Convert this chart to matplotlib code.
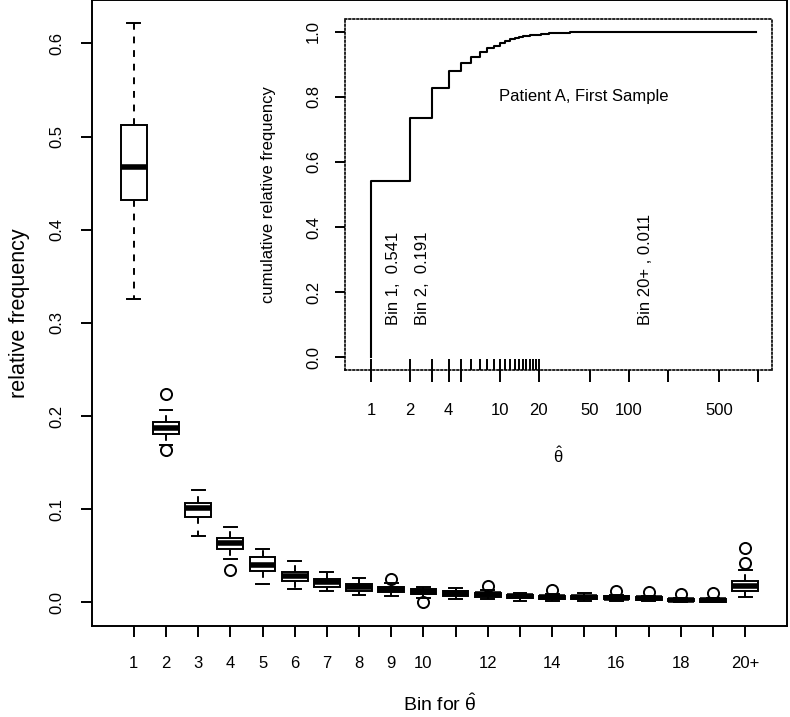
import matplotlib
matplotlib.use("Agg")
import matplotlib.pyplot as plt
from matplotlib.ticker import NullLocator

plt.rcParams['font.family'] = ['Liberation Sans', 'DejaVu Sans']
plt.rcParams['mathtext.fontset'] = 'custom'
plt.rcParams['mathtext.rm'] = 'Liberation Sans'
plt.rcParams['mathtext.it'] = 'Liberation Sans:italic'

# main panel: relative frequency per bin, summarised across samples
bins = ["1", "2", "3", "4", "5", "6", "7", "8", "9", "10",
        "11", "12", "13", "14", "15", "16", "17", "18", "19", "20+"]
shown = ["1", "2", "3", "4", "5", "6", "7", "8", "9", "10",
         "12", "14", "16", "18", "20+"]
whis_hi = [0.6217, 0.206, 0.1211, 0.0807, 0.0568, 0.0443, 0.0322, 0.0264, 0.021, 0.0167,
           0.015, 0.0132, 0.0096, 0.0086, 0.0096, 0.0078, 0.0068, 0.0043, 0.005, 0.0346]
q3 = [0.5127, 0.1936, 0.1068, 0.0692, 0.0482, 0.0328, 0.0253, 0.0193, 0.0167, 0.0139,
      0.0121, 0.0103, 0.0078, 0.0071, 0.0068, 0.0064, 0.0057, 0.0035, 0.0035, 0.0232]
med = [0.4669, 0.1871, 0.1008, 0.0639, 0.040, 0.0282, 0.0221, 0.0161, 0.0139, 0.0114,
       0.0096, 0.0086, 0.0064, 0.0054, 0.0054, 0.005, 0.0043, 0.0025, 0.0021, 0.0175]
q1 = [0.4323, 0.1811, 0.0917, 0.0568, 0.0339, 0.0232, 0.0167, 0.0124, 0.0107, 0.0086,
      0.0071, 0.006, 0.0043, 0.0032, 0.0035, 0.0032, 0.0028, 0.001, 0.0007, 0.0121]
whis_lo = [0.3251, 0.1686, 0.0711, 0.046, 0.0199, 0.0146, 0.0121, 0.0078, 0.0071, 0.005,
           0.0035, 0.0035, 0.0017, 0.001, 0.0014, 0.0014, 0.001, 0.0003, 0.0, 0.0056]
outliers = [[], [0.224, 0.1632], [], [0.0346], [], [], [], [], [0.025], [0.0007],
            [], [0.0175], [], [0.0132], [], [0.0121], [0.011], [0.0086], [0.0096], [0.058, 0.042]]

# inset: cumulative relative frequency of theta-hat, patient A first sample
ecdf_x = [1, 2, 3, 4, 5, 6, 7, 8, 9, 10, 11, 12, 13, 14, 15, 16, 17, 18, 19,
          20, 21, 22, 24, 27, 35, 50, 100, 200, 500, 975]
ecdf_y = [0.541, 0.736, 0.826, 0.880, 0.903, 0.921, 0.939, 0.949, 0.957, 0.964,
          0.971, 0.977, 0.982, 0.985, 0.987, 0.988, 0.9885, 0.989, 0.989,
          0.991, 0.993, 0.994, 0.996, 0.997, 0.998, 0.9985, 0.999, 0.9995, 0.9998, 1.0]
rug_x = list(range(1, 21))
inset_ticks = [1, 2, 3, 4, 5, 10, 20, 50, 100, 200, 500, 1000]
inset_shown = ["1", "2", "4", "10", "20", "50", "100", "500"]
note_text = ["Bin 1,  0.541", "Bin 2,  0.191", "Bin 20+ , 0.011"]
note_x = [1.5, 2.5, 135]

W, H = 790, 717


def frac(l, t, r, b):
    return [l / W, 1 - b / H, (r - l) / W, (b - t) / H]


fig = plt.figure(figsize=(7.9, 7.17), dpi=100)
ax = fig.add_axes(frac(92, 0, 787, 625.5))

pos = list(range(1, len(bins) + 1))
stats = [dict(med=m, q1=a, q3=b, whislo=lo, whishi=hi, fliers=f)
         for m, a, b, lo, hi, f in zip(med, q1, q3, whis_lo, whis_hi, outliers)]
ax.bxp(stats, positions=pos, widths=0.8, capwidths=0.4, patch_artist=True,
       boxprops=dict(facecolor='white', edgecolor='black', linewidth=1.4),
       medianprops=dict(color='black', linewidth=4, solid_capstyle='butt'),
       whiskerprops=dict(color='black', linewidth=1.4, linestyle=(0, (3.5, 3.5))),
       capprops=dict(color='black', linewidth=1.4),
       flierprops=dict(marker='o', markerfacecolor='none', markeredgecolor='black',
                       markersize=8, markeredgewidth=1.4))

ax.set_xlim(-0.3, 21.3)
ax.set_ylim(-0.0249, 0.6466)
ax.set_xticks(pos)
ax.set_xticklabels([b if b in shown else "" for b in bins])
yt = [0.0, 0.1, 0.2, 0.3, 0.4, 0.5, 0.6]
ax.set_yticks(yt)
ax.set_yticklabels(["%.1f" % v for v in yt], rotation=90, va='center')
ax.tick_params(length=8, width=1.4, labelsize=12)
ax.tick_params(axis='x', pad=14)
ax.tick_params(axis='y', pad=12)
for s in ax.spines.values():
    s.set_linewidth(1.4)
ax.set_ylabel("relative frequency", fontsize=15.5, labelpad=14)
ax.set_xlabel(r"Bin for $\hat{\mathrm{\theta}}$", fontsize=14, labelpad=16)

# inset
ins = fig.add_axes(frac(345, 18.7, 772, 370.3))
ins.set_xscale('log')
ins.step([1] + ecdf_x, [0] + ecdf_y, where='post', color='black', lw=1.5)
ins.vlines(rug_x, 0, 0.031, transform=ins.get_xaxis_transform(), color='black', lw=1.4)
ins.set_xlim(0.63, 1290)
ins.set_ylim(-0.04, 1.04)
ins.set_xticks(inset_ticks)
ins.set_xticklabels([str(t) if str(t) in inset_shown else "" for t in inset_ticks])
ins.xaxis.set_minor_locator(NullLocator())
iy = [0.0, 0.2, 0.4, 0.6, 0.8, 1.0]
ins.set_yticks(iy)
ins.set_yticklabels(["%.1f" % v for v in iy], rotation=90, va='center')
ins.tick_params(axis='x', length=8.6, width=1.4, labelsize=12, pad=15)
ins.tick_params(axis='y', length=7.2, width=1.4, labelsize=12, pad=10)
for s in ins.spines.values():
    s.set_linestyle((0, (1, 1.4)))
    s.set_linewidth(1.2)

for x, t in zip(note_x, note_text):
    ins.text(x, 0.1, t, rotation=90, ha='center', va='bottom', fontsize=12)
ins.text(45, 0.8, "Patient A, First Sample", ha='center', va='center', fontsize=12)
ins.set_ylabel("cumulative relative frequency", fontsize=12, labelpad=22)
ins.set_xlabel(r"$\hat{\mathrm{\theta}}$", fontsize=12, labelpad=20)

fig.savefig("out.png", dpi=100)
